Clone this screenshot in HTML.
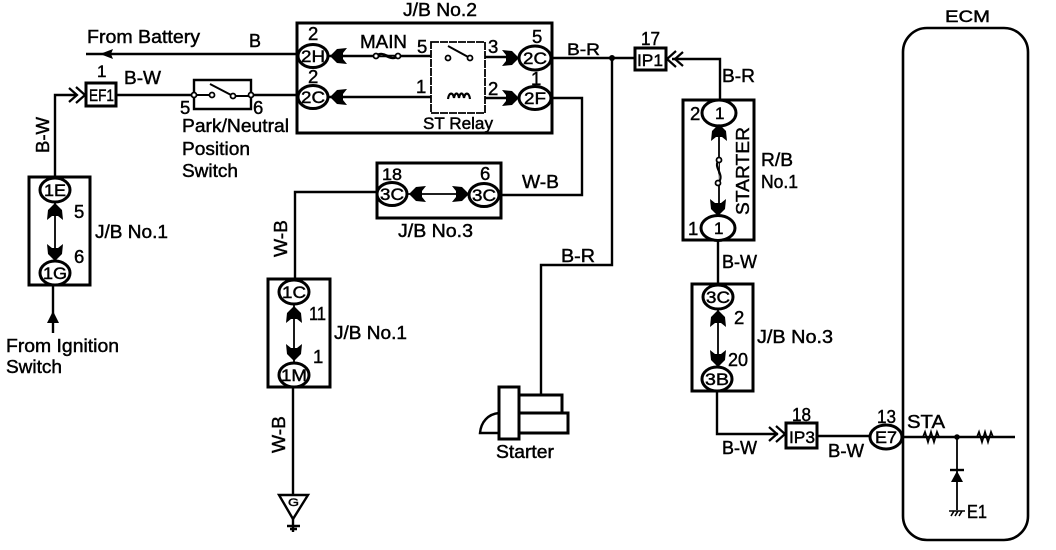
<!DOCTYPE html>
<html><head><meta charset="utf-8"><style>
html,body{margin:0;padding:0;background:#fff}
svg{display:block}
text{font-family:"Liberation Sans",sans-serif;font-size:18.5px;fill:#000;stroke:#000;stroke-width:.45}
.s{font-size:17px}
</style></head><body>
<svg width="1056" height="550" viewBox="0 0 1056 550" xmlns="http://www.w3.org/2000/svg">
<defs>
<path id="a" d="M0,0 L7,-7 L17,-8 L13,-3 L13,3 L17,8 L7,7 Z"/>
<g id="o" fill="none" stroke="#000" stroke-width="2.2"><path d="M0,-8 L9,0 L0,8 M-7,-7 L1,0 L-7,7"/></g>
<path id="r" d="M-13,0 L-8,0 L-6,-5 L-3,5 L0,-5 L3,5 L6,-5 L8,0 L13,0" fill="none" stroke="#000" stroke-width="1.8"/>
</defs>
<g fill="none" stroke="#000" stroke-width="2.4">
<!-- wires -->
<path d="M86,54 H296"/>
<path d="M116,95 H194 M251,95 H297"/>
<path d="M76,95 H55 V177"/>
<path d="M53,285 V333"/>
<path d="M326,56 H431 M485,57 H510 M326,97 H431 M485,98 H510"/>
<path d="M552,58 H636"/>
<path d="M612,58 V265 H541 V394"/>
<path d="M553,98 H582 V195 H501"/>
<path d="M377,192 H295 V279"/>
<path d="M406,194 H470" stroke-width="1.8"/>
<path d="M672,59 H720 V100"/>
<path d="M719,126 V215" stroke-width="1.8"/>
<path d="M718,240 V284"/>
<path d="M55,202 V262" stroke-width="1.8"/>
<path d="M294,305 V362" stroke-width="1.8"/>
<path d="M293,387 V495"/>
<path d="M718,310 V367" stroke-width="1.8"/>
<path d="M717,391 V434 H778"/>
<path d="M817,436 H870 M902,437 H1015"/>
<path d="M957,437 V510" stroke-width="1.8"/>
<!-- boxes -->
<rect x="297" y="23" width="255" height="110" stroke-width="3"/>
<rect x="377" y="163" width="124" height="55" stroke-width="3"/>
<rect x="29" y="177" width="61" height="108" stroke-width="3"/>
<rect x="268" y="279" width="62" height="108" stroke-width="3"/>
<rect x="683" y="100" width="71" height="140" stroke-width="3"/>
<rect x="692" y="284" width="61" height="107" stroke-width="3"/>
<rect x="86" y="83" width="30" height="23" stroke-width="3"/>
<rect x="635" y="48" width="31" height="22" stroke-width="3"/>
<rect x="786" y="423" width="31" height="25" stroke-width="3"/>
<path d="M194,95 V80 H251 V109 H194 V95" stroke-width="2.4"/>
<rect x="431" y="42" width="54" height="71" stroke-width="1.8" stroke-dasharray="8 1"/>
<rect x="903" y="28" width="125" height="512" rx="24" stroke-width="2.6"/>
<!-- switch blades -->
<path d="M210,84 L233,96 M212,95 H194" stroke-width="2"/>
<path d="M233,96 H251" stroke-width="2"/>
<path d="M448,46 L470,58" stroke-width="2"/>
<!-- fuses and coil -->
<path d="M376,56 C385,50 389,62 398,56" fill="#fff" stroke-width="3"/>
<path d="M448,99 C449,92 453,92 454,98 C455,92 458,92 459,98 C460,92 463,92 464,98 C465,92 469,92 470,99" fill="#fff" stroke-width="2.2"/>
<path d="M719,160 C712,167 726,175 718,183" fill="#fff" stroke-width="2.2"/>
<!-- starter -->
<rect x="499" y="387" width="20" height="52" fill="#fff" stroke-width="3"/>
<path d="M519,395 H562 V413 H519 M519,413 H568 V433 H519" stroke-width="3"/>
<path d="M499,413 C488,414 481,422 480,433 H499" stroke-width="2.4"/>
<!-- ground triangle -->
<path d="M279,495 H308 L293,519 Z" fill="#fff" stroke-width="2.4"/>
<path d="M287,526 H300 M290,529 H297 M293,519 V532" stroke-width="2.4"/>
<!-- ovals -->
<g fill="#fff" stroke-width="3">
<ellipse cx="313" cy="56" rx="15" ry="11.5"/>
<ellipse cx="313" cy="97" rx="15" ry="11.5"/>
<ellipse cx="535" cy="58" rx="16" ry="12"/>
<ellipse cx="535" cy="98" rx="16" ry="11.5"/>
<ellipse cx="392" cy="194" rx="15" ry="11.5"/>
<ellipse cx="484" cy="195" rx="15" ry="11.5"/>
<ellipse cx="55" cy="190" rx="15" ry="12"/>
<ellipse cx="55" cy="273" rx="15" ry="12"/>
<ellipse cx="294" cy="292" rx="15" ry="12"/>
<ellipse cx="294" cy="375" rx="15" ry="12"/>
<ellipse cx="719" cy="113" rx="17" ry="13"/>
<ellipse cx="718" cy="228" rx="17" ry="12.5"/>
<ellipse cx="718" cy="297" rx="15" ry="12"/>
<ellipse cx="717" cy="379" rx="15" ry="12"/>
<ellipse cx="886" cy="437" rx="16" ry="12"/>
</g>
<!-- terminals -->
<g fill="#fff" stroke-width="1.8">
<circle cx="194" cy="95" r="2.5"/><circle cx="251" cy="95" r="2.5"/>
<circle cx="212" cy="95" r="2.5"/><circle cx="233" cy="96" r="2.5"/>
<circle cx="448" cy="58" r="2.5"/><circle cx="470" cy="58" r="2.5"/>
<circle cx="376" cy="56" r="2.5"/><circle cx="398" cy="56" r="2.5"/>
<circle cx="719" cy="160" r="2.5"/><circle cx="718" cy="183" r="2.5"/>
</g>
</g>
<!-- resistors -->
<use href="#r" x="931" y="437"/>
<use href="#r" x="985" y="437"/>
<circle cx="957" cy="437" r="2.8"/>
<circle cx="612" cy="58" r="3"/>
<!-- diode -->
<path d="M951,482 H963 L957,471 Z"/>
<path d="M950,470 H964" stroke="#000" stroke-width="2.4"/>
<!-- ground E1 -->
<path d="M949,511 H965 M951,516 L954,511 M955,516 L958,511 M959,516 L962,511" stroke="#000" stroke-width="1.6" fill="none"/>
<!-- filled arrows -->
<path d="M100,54 L113,49 L111,54 L113,59 Z"/>
<use href="#a" transform="translate(330,56)"/>
<use href="#a" transform="translate(330,97)"/>
<use href="#a" transform="translate(519,58) rotate(180)"/>
<use href="#a" transform="translate(519,98) rotate(180)"/>
<use href="#a" transform="translate(409,194)"/>
<use href="#a" transform="translate(469,194) rotate(180)"/>
<use href="#a" transform="translate(55,203) rotate(90)"/>
<use href="#a" transform="translate(55,261) rotate(-90)"/>
<use href="#a" transform="translate(294,306) rotate(90)"/>
<use href="#a" transform="translate(294,361) rotate(-90)"/>
<use href="#a" transform="translate(719,124) rotate(90)"/>
<use href="#a" transform="translate(718,216) rotate(-90)"/>
<use href="#a" transform="translate(718,310) rotate(90)"/>
<use href="#a" transform="translate(718,367) rotate(-90)"/>
<path d="M53,311 L59,323 H47 Z"/>
<!-- open arrows -->
<use href="#o" transform="translate(76,95)"/>
<use href="#o" transform="translate(676,59) rotate(180)"/>
<use href="#o" transform="translate(776,434)"/>
<!-- labels -->
<text x="87" y="43" textLength="113" lengthAdjust="spacingAndGlyphs">From Battery</text>
<text x="249" y="47" textLength="12" lengthAdjust="spacingAndGlyphs">B</text>
<text x="403" y="16" textLength="74" lengthAdjust="spacingAndGlyphs">J/B No.2</text>
<text x="308" y="40">2</text>
<text x="308" y="83">2</text>
<text x="360" y="48" textLength="47" lengthAdjust="spacingAndGlyphs">MAIN</text>
<text x="417" y="53">5</text>
<text x="488" y="53">3</text>
<text x="532" y="43">5</text>
<text x="531" y="85">1</text>
<text x="416" y="93">1</text>
<text x="488" y="95">2</text>
<text x="423" y="129" textLength="70" lengthAdjust="spacingAndGlyphs" class="s">ST Relay</text>
<text x="567" y="55" textLength="33" lengthAdjust="spacingAndGlyphs" class="s">B-R</text>
<text x="561" y="262" textLength="34" lengthAdjust="spacingAndGlyphs">B-R</text>
<text x="522" y="188" textLength="37" lengthAdjust="spacingAndGlyphs">W-B</text>
<text x="382" y="180" textLength="20" lengthAdjust="spacingAndGlyphs" class="s">18</text>
<text x="480" y="180">6</text>
<text x="398" y="237" textLength="75" lengthAdjust="spacingAndGlyphs">J/B No.3</text>
<text x="97" y="77" class="s">1</text>
<text x="124" y="84" textLength="37" lengthAdjust="spacingAndGlyphs">B-W</text>
<text x="180" y="114">5</text>
<text x="253" y="114">6</text>
<text x="182" y="132" textLength="107" lengthAdjust="spacingAndGlyphs">Park/Neutral</text>
<text x="182" y="155" textLength="68" lengthAdjust="spacingAndGlyphs">Position</text>
<text x="182" y="177" textLength="56" lengthAdjust="spacingAndGlyphs">Switch</text>
<text transform="translate(49,153) rotate(-90)" textLength="36" lengthAdjust="spacingAndGlyphs">B-W</text>
<text x="74" y="218">5</text>
<text x="95" y="238" textLength="73" lengthAdjust="spacingAndGlyphs">J/B No.1</text>
<text x="74" y="263">6</text>
<text transform="translate(287,257) rotate(-90)" textLength="37" lengthAdjust="spacingAndGlyphs">W-B</text>
<text x="6" y="352" textLength="113" lengthAdjust="spacingAndGlyphs">From Ignition</text>
<text x="6" y="373" textLength="56" lengthAdjust="spacingAndGlyphs">Switch</text>
<text x="690" y="120">2</text>
<text x="688" y="235">1</text>
<text transform="translate(749,215) rotate(-90)" textLength="88" lengthAdjust="spacingAndGlyphs">STARTER</text>
<text x="761" y="166" textLength="32" lengthAdjust="spacingAndGlyphs">R/B</text>
<text x="761" y="188" textLength="37" lengthAdjust="spacingAndGlyphs">No.1</text>
<text x="722" y="82" textLength="33" lengthAdjust="spacingAndGlyphs">B-R</text>
<text x="722" y="268" textLength="35" lengthAdjust="spacingAndGlyphs">B-W</text>
<text x="641" y="45" textLength="19" lengthAdjust="spacingAndGlyphs">17</text>
<text x="757" y="343" textLength="76" lengthAdjust="spacingAndGlyphs">J/B No.3</text>
<text x="734" y="324">2</text>
<text x="728" y="366" textLength="20" lengthAdjust="spacingAndGlyphs">20</text>
<text x="722" y="454" textLength="35" lengthAdjust="spacingAndGlyphs">B-W</text>
<text x="792" y="421" textLength="19" lengthAdjust="spacingAndGlyphs">18</text>
<text x="828" y="457" textLength="36" lengthAdjust="spacingAndGlyphs">B-W</text>
<text x="877" y="423" textLength="19" lengthAdjust="spacingAndGlyphs">13</text>
<text x="907" y="428" textLength="38" lengthAdjust="spacingAndGlyphs">STA</text>
<text x="967" y="518" textLength="20" lengthAdjust="spacingAndGlyphs">E1</text>
<text x="309" y="320" textLength="17" lengthAdjust="spacingAndGlyphs">11</text>
<text x="334" y="339" textLength="73" lengthAdjust="spacingAndGlyphs">J/B No.1</text>
<text x="313" y="363">1</text>
<text transform="translate(285,453) rotate(-90)" textLength="37" lengthAdjust="spacingAndGlyphs">W-B</text>
<text x="496" y="458" textLength="58" lengthAdjust="spacingAndGlyphs">Starter</text>
<text x="945" y="22" textLength="45" lengthAdjust="spacingAndGlyphs" class="s">ECM</text>
<!-- connector codes -->
<text x="89" y="101" textLength="25" lengthAdjust="spacingAndGlyphs" class="s">EF1</text>
<text x="637" y="66" textLength="26" lengthAdjust="spacingAndGlyphs" class="s">IP1</text>
<text x="789" y="443" textLength="26" lengthAdjust="spacingAndGlyphs" class="s">IP3</text>
<text x="875" y="443" textLength="22" lengthAdjust="spacingAndGlyphs" class="s">E7</text>
<text x="301" y="62" textLength="24" lengthAdjust="spacingAndGlyphs" class="s">2H</text>
<text x="301" y="103" textLength="24" lengthAdjust="spacingAndGlyphs" class="s">2C</text>
<text x="523" y="64" textLength="24" lengthAdjust="spacingAndGlyphs" class="s">2C</text>
<text x="524" y="104" textLength="22" lengthAdjust="spacingAndGlyphs" class="s">2F</text>
<text x="380" y="200" textLength="24" lengthAdjust="spacingAndGlyphs" class="s">3C</text>
<text x="472" y="201" textLength="24" lengthAdjust="spacingAndGlyphs" class="s">3C</text>
<text x="44" y="196" textLength="22" lengthAdjust="spacingAndGlyphs" class="s">1E</text>
<text x="43" y="279" textLength="24" lengthAdjust="spacingAndGlyphs" class="s">1G</text>
<text x="282" y="298" textLength="24" lengthAdjust="spacingAndGlyphs" class="s">1C</text>
<text x="281" y="381" textLength="26" lengthAdjust="spacingAndGlyphs" class="s">1M</text>
<text x="715" y="119" class="s">1</text>
<text x="714" y="234" class="s">1</text>
<text x="706" y="303" textLength="24" lengthAdjust="spacingAndGlyphs" class="s">3C</text>
<text x="705" y="385" textLength="24" lengthAdjust="spacingAndGlyphs" class="s">3B</text>
<text x="288" y="506" textLength="11" lengthAdjust="spacingAndGlyphs" style="font-size:11px">G</text>
</svg>
</body></html>
